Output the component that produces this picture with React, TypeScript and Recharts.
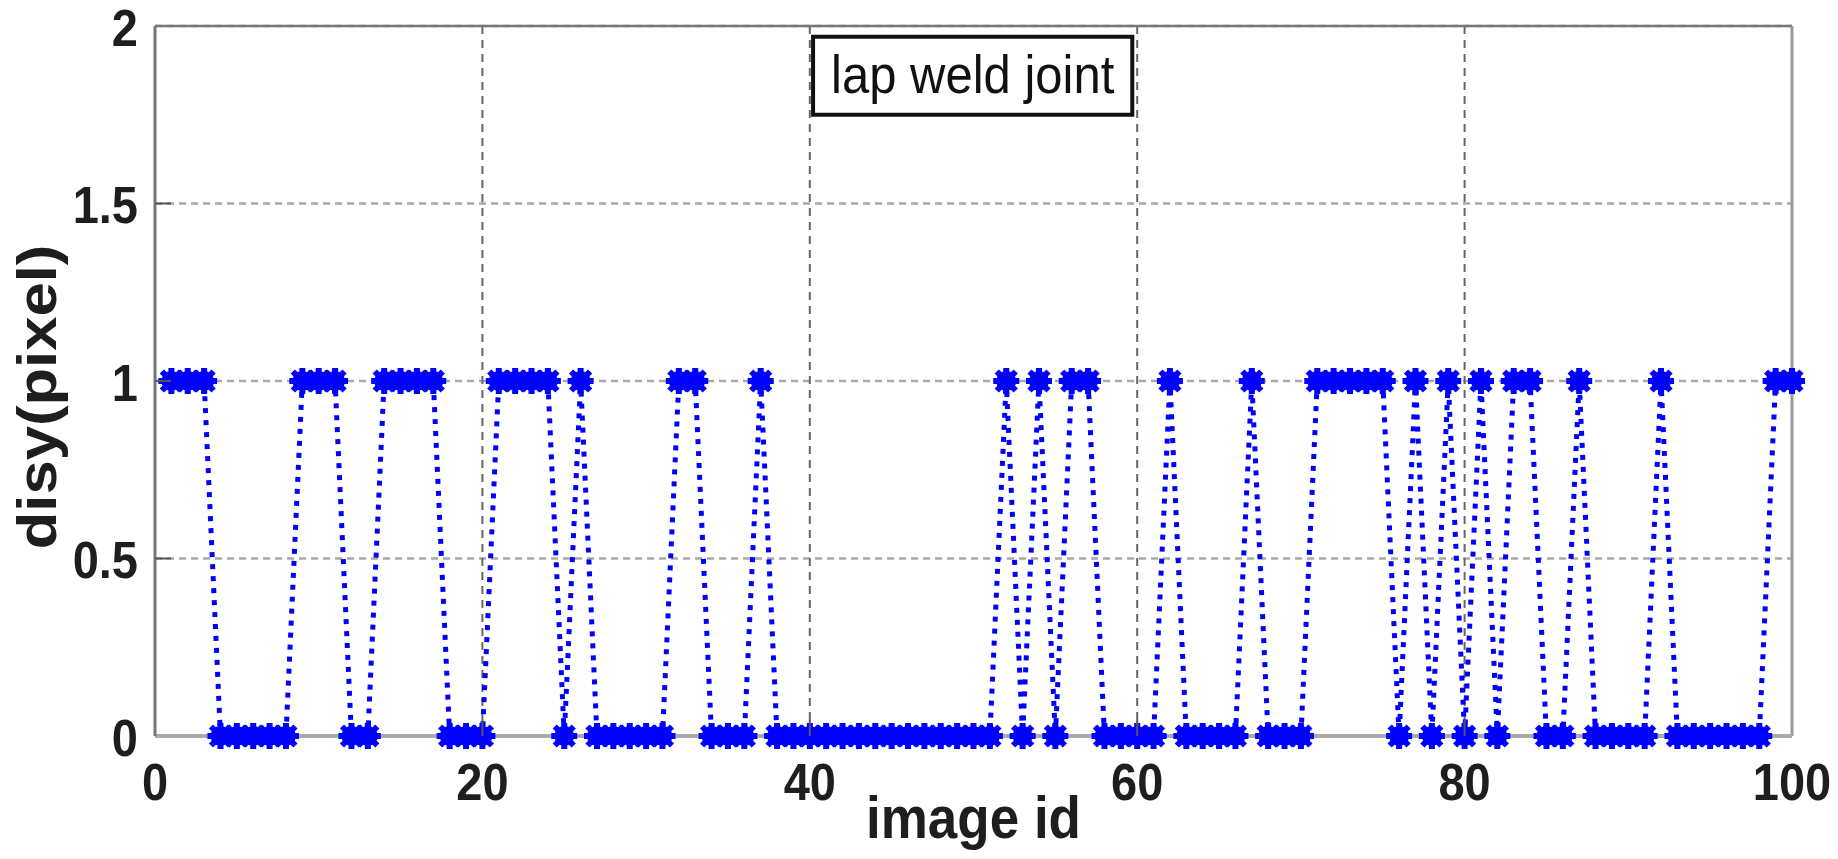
import React from 'react'
import {
  LineChart,
  Line,
  XAxis,
  YAxis,
  CartesianGrid,
  ReferenceLine,
  ReferenceArea,
  Label,
} from 'recharts'

// disy value of each image, image id = position + 1 (1..100)
const disyValues = [
  1, 1, 1, 0, 0, 0, 0, 0, 1, 1,
  1, 0, 0, 1, 1, 1, 1, 0, 0, 0,
  1, 1, 1, 1, 0, 1, 0, 0, 0, 0,
  0, 1, 1, 0, 0, 0, 1, 0, 0, 0,
  0, 0, 0, 0, 0, 0, 0, 0, 0, 0,
  0, 1, 0, 1, 0, 1, 1, 0, 0, 0,
  0, 1, 0, 0, 0, 0, 1, 0, 0, 0,
  1, 1, 1, 1, 1, 0, 1, 0, 1, 0,
  1, 0, 1, 1, 0, 0, 1, 0, 0, 0,
  0, 1, 0, 0, 0, 0, 0, 0, 1, 1,
]
const xTicks = [0, 20, 40, 60, 80, 100]
const yTicks = [0, 0.5, 1, 1.5, 2]
const annotation = 'lap weld joint'

const data = disyValues.map((v, i) => ({ id: i + 1, disy: v }))

const FONT = '"Liberation Sans", Arial, Helvetica, sans-serif'
const BLUE = '#0000ff'
const TEXT = '#1e1e1e'
const X_MARGIN = 28
const Y_MARGIN = 17

const XTick = (props: any) => {
  const { x, y, payload } = props
  const inner = payload.value > 0 && payload.value < 100
  return (
    <g>
      {inner && <line x1={x} y1={y - X_MARGIN} x2={x} y2={y - X_MARGIN - 16} stroke="#555" strokeWidth={2} />}
      <g transform={`translate(${x},${y}) scale(1,1.1)`}>
        <text textAnchor="middle" dy={33} fontSize={47} fontWeight="bold" fontFamily={FONT} fill={TEXT}>
          {payload.value}
        </text>
      </g>
    </g>
  )
}

const YTick = (props: any) => {
  const { x, y, payload } = props
  const inner = payload.value > 0 && payload.value < 2
  return (
    <g>
      {inner && <line x1={x + Y_MARGIN} y1={y} x2={x + Y_MARGIN + 16} y2={y} stroke="#555" strokeWidth={2} />}
      <g transform={`translate(${x},${y + 1}) scale(1,1.1)`}>
        <text textAnchor="end" dy="0.36em" fontSize={47} fontWeight="bold" fontFamily={FONT} fill={TEXT}>
          {String(payload.value)}
        </text>
      </g>
    </g>
  )
}

const Star = (props: any) => {
  const { cx, cy, index } = props
  if (cx == null || cy == null) return <g key={index} />
  const r = 13
  const d = 9.5
  return (
    <g key={index} stroke={BLUE} strokeWidth={6}>
      <circle cx={cx} cy={cy} r={10} fill={BLUE} stroke="none" />
      <line x1={cx - r} y1={cy} x2={cx + r} y2={cy} />
      <line x1={cx} y1={cy - r} x2={cx} y2={cy + r} />
      <line x1={cx - d} y1={cy - d} x2={cx + d} y2={cy + d} />
      <line x1={cx - d} y1={cy + d} x2={cx + d} y2={cy - d} />
    </g>
  )
}

const XLabel = (props: any) => {
  const vb = props.viewBox
  const cx = vb.x + vb.width / 2
  return (
    <g transform={`translate(${cx},${vb.y + 102}) scale(1,1.1)`}>
      <text textAnchor="middle" fontSize={53} fontWeight="bold" fontFamily={FONT} fill={TEXT}>
        image id
      </text>
    </g>
  )
}

const YLabel = (props: any) => {
  const vb = props.viewBox
  const cy = vb.y + vb.height / 2 + 16
  return (
    <g transform={`translate(56,${cy}) scale(1,1.1) rotate(-90)`}>
      <text textAnchor="middle" fontSize={56} fontWeight="bold" fontFamily={FONT} fill={TEXT}>
        disy(pixel)
      </text>
    </g>
  )
}

const BoxLabel = (props: any) => {
  const vb = props.viewBox
  const cx = vb.x + vb.width / 2
  const cy = vb.y + vb.height / 2
  return (
    <g transform={`translate(${cx},${cy}) scale(1,1.1)`}>
      <text textAnchor="middle" dy="0.33em" fontSize={49} fontFamily={FONT} fill="#111">
        {annotation}
      </text>
    </g>
  )
}

export default function App() {
  return (
    <div style={{ position: 'absolute', left: 0, top: 0, width: 1838, height: 859, background: 'white' }}>
      <LineChart
        width={1838}
        height={859}
        data={data}
        margin={{ top: 26, right: 46, left: 0, bottom: 0 }}
      >
        <CartesianGrid vertical={false} stroke="#a8a8a8" strokeDasharray="7 5" strokeWidth={2.5} />
        <CartesianGrid horizontal={false} stroke="#666" strokeDasharray="8 6" strokeWidth={2} />
        <XAxis
          type="number"
          dataKey="id"
          domain={[0, 100]}
          ticks={xTicks}
          interval={0}
          height={123}
          tickLine={false}
          tickSize={0}
          tickMargin={X_MARGIN}
          axisLine={{ stroke: '#aaa', strokeWidth: 4 }}
          tick={<XTick />}
        >
          <Label content={<XLabel />} />
        </XAxis>
        <YAxis
          type="number"
          domain={[0, 2]}
          ticks={yTicks}
          interval={0}
          width={155}
          tickLine={false}
          tickSize={0}
          tickMargin={Y_MARGIN}
          axisLine={{ stroke: '#777', strokeWidth: 3 }}
          tick={<YTick />}
        >
          <Label content={<YLabel />} />
        </YAxis>
        <ReferenceLine y={2} stroke="#777" strokeWidth={2.5} />
        <ReferenceLine x={100} stroke="#999" strokeWidth={3} />
        <Line
          type="linear"
          dataKey="disy"
          stroke={BLUE}
          strokeWidth={5}
          strokeDasharray="5 7"
          dot={<Star />}
          activeDot={false}
          isAnimationActive={false}
        />
        <ReferenceArea
          x1={40.2}
          x2={59.7}
          y1={1.75}
          y2={1.97}
          fill="#fff"
          fillOpacity={1}
          stroke="#111"
          strokeWidth={4}
          ifOverflow="visible"
        >
          <Label content={<BoxLabel />} />
        </ReferenceArea>
      </LineChart>
    </div>
  )
}
